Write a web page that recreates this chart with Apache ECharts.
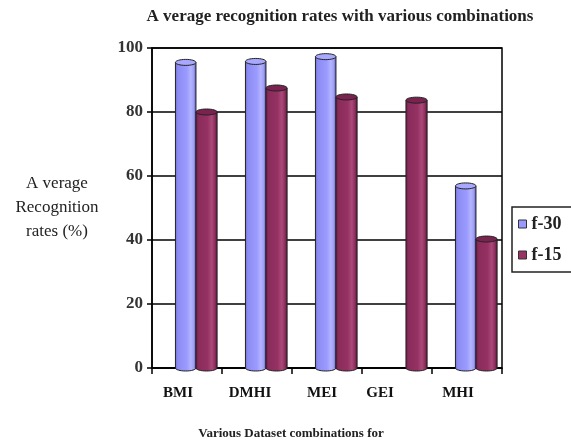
<!DOCTYPE html>
<html><head><meta charset="utf-8">
<script src="https://cdn.jsdelivr.net/npm/echarts@6/dist/echarts.min.js"></script>
<style>html,body{margin:0;padding:0;background:#fff}#c{width:571px;height:443px}</style>
</head><body><div id="c"></div>
<script>
// ---- data ----
const categories = ['BMI', 'DMHI', 'MEI', 'GEI', 'MHI'];
const seriesNames = ['f-30', 'f-15'];
const f30 = [95.5, 95.8, 97.3, null, 56.9];
const f15 = [80.0, 87.5, 84.7, 83.7, 40.3];
const yTicks = [0, 20, 40, 60, 80, 100];
const titleText = 'A verage recognition rates with various combinations';
const yNameText = 'A verage\nRecognition\nrates (%)';
const xNameText = 'Various Dataset combinations for';

// ---- styles ----
const SERIF = '"Liberation Serif", "DejaVu Serif", serif';
const labelShift = [9, 7, 5, 17, 9];
const styles = [
  { color: '#9999FF', offset: [-0.165, 0.128], top: '#a8a8ff',
    stops: [[0, '#7373d6'], [0.12, '#8c8cf2'], [0.55, '#9a9aff'], [0.75, '#b4b4ff'], [0.88, '#a0a0f8'], [1, '#6363c0']] },
  { color: '#993366', offset: [0.128, 0.43], top: '#7a2350',
    stops: [[0, '#6e1f47'], [0.12, '#8a2c5b'], [0.55, '#953263'], [0.75, '#aa4a79'], [0.88, '#923062'], [1, '#5c1a3b']] }
];

function makeRender(st) {
  return function (params, api) {
    const i = api.value(0), v = api.value(1);
    if (v == null || isNaN(v)) return null;
    const top = api.coord([i, v]);
    const base = api.coord([i, 0]);
    const band = api.size([1, 0])[0];
    const x0 = top[0] + band * st.offset[0];
    const x1 = top[0] + band * st.offset[1];
    const w = x1 - x0, ry = 3, cx = (x0 + x1) / 2;
    const grad = { type: 'linear', x: 0, y: 0, x2: 1, y2: 0,
      colorStops: st.stops.map(s => ({ offset: s[0], color: s[1] })) };
    return { type: 'group', children: [
      { type: 'ellipse', shape: { cx: cx, cy: base[1], rx: w / 2, ry: ry }, style: { fill: grad, stroke: '#222', lineWidth: 1 } },
      { type: 'rect', shape: { x: x0, y: top[1], width: w, height: base[1] - top[1] }, style: { fill: grad } },
      { type: 'line', shape: { x1: x0, y1: top[1], x2: x0, y2: base[1] }, style: { stroke: '#222', lineWidth: 1 } },
      { type: 'line', shape: { x1: x1, y1: top[1], x2: x1, y2: base[1] }, style: { stroke: '#222', lineWidth: 1 } },
      { type: 'ellipse', shape: { cx: cx, cy: top[1], rx: w / 2, ry: ry }, style: { fill: st.top, stroke: '#222', lineWidth: 1 } }
    ] };
  };
}

const allValues = [f30, f15];
const rich = {};
labelShift.forEach((s, i) => {
  rich['s' + i] = { fontFamily: SERIF, fontSize: 15, fontWeight: 'bold', color: '#111', padding: [0, 2 * s, 0, 0] };
});

const chart = echarts.init(document.getElementById('c'), null, { renderer: 'canvas' });
chart.setOption({
  animation: false,
  backgroundColor: '#fff',
  grid: { left: 152, right: 69, top: 48, bottom: 75, show: true, borderColor: '#000', borderWidth: 1.5 },
  legend: {
    data: seriesNames,
    orient: 'vertical', left: 512, top: 207,
    padding: [8, 40, 8, 6], itemGap: 13,
    itemWidth: 8, itemHeight: 8, icon: 'rect',
    itemStyle: { borderColor: '#333', borderWidth: 1 },
    borderColor: '#222', borderWidth: 1.5,
    textStyle: { fontFamily: SERIF, fontSize: 18, fontWeight: 'bold', color: '#222' }
  },
  xAxis: {
    type: 'category', data: categories,
    axisLine: { lineStyle: { color: '#000', width: 1.5 } },
    axisTick: { show: true, length: 6, lineStyle: { color: '#000', width: 1.5 } },
    axisLabel: { interval: 0, hideOverlap: false, margin: 18, formatter: (v, i) => '{s' + i + '|' + v + '}', rich: rich }
  },
  yAxis: {
    type: 'value', min: yTicks[0], max: yTicks[yTicks.length - 1], interval: yTicks[1] - yTicks[0],
    axisLine: { show: true, lineStyle: { color: '#000', width: 1.5 } },
    axisTick: { show: true, length: 5, lineStyle: { color: '#000', width: 1.5 } },
    splitLine: { lineStyle: { color: '#000', width: 1.5 } },
    axisLabel: { margin: 9, fontFamily: SERIF, fontSize: 17, fontWeight: 'bold', color: '#333' }
  },
  graphic: [
    { type: 'text', x: 340, y: 17, style: { text: titleText, textAlign: 'center', textVerticalAlign: 'middle', font: 'bold 17px ' + SERIF, fill: '#222' } },
    { type: 'text', x: 57, y: 208, style: { text: yNameText, textAlign: 'center', textVerticalAlign: 'middle', font: '17px ' + SERIF, lineHeight: 24, fill: '#222' } },
    { type: 'text', x: 291, y: 434, style: { text: xNameText, textAlign: 'center', textVerticalAlign: 'middle', font: 'bold 13px ' + SERIF, fill: '#222' } }
  ],
  series: seriesNames.map((n, k) => ({
    name: n, type: 'custom',
    itemStyle: { color: styles[k].color },
    encode: { x: 0, y: 1 },
    renderItem: makeRender(styles[k]),
    data: allValues[k].map((v, i) => [i, v == null ? '-' : v])
  }))
});
</script></body></html>
